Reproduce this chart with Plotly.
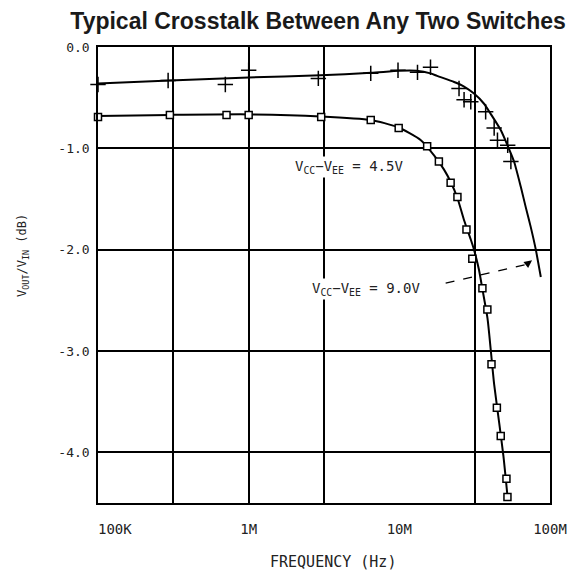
import math
import plotly.graph_objects as go

# ---- data ----
# upper curve: VCC-VEE = 9.0V (smooth line)
f_90_line = [1e5, 3e5, 1e6, 3e6, 6.5e6, 1e7, 1.3e7, 1.61e7, 1.78e7, 2.31e7, 2.69e7, 3.13e7,
             3.65e7, 4.04e7, 4.71e7, 5.22e7, 5.77e7, 6.4e7, 6.9e7, 7.46e7, 8.05e7, 8.69e7]
db_90_line = [-0.36, -0.33, -0.30, -0.28, -0.255, -0.235, -0.235, -0.26, -0.285, -0.345, -0.39, -0.46,
              -0.56, -0.66, -0.82, -0.97, -1.13, -1.38, -1.58, -1.78, -2.0, -2.27]
# upper curve measured points (+)
f_90_pts = [1e5, 2.92e5, 7.0e5, 1.0e6, 2.9e6, 6.46e6, 9.8e6, 1.32e7, 1.61e7, 2.49e7, 2.69e7,
            2.98e7, 3.74e7, 4.26e7, 4.48e7, 5.24e7, 5.5e7]
db_90_pts = [-0.37, -0.33, -0.37, -0.23, -0.31, -0.26, -0.23, -0.25, -0.20, -0.41, -0.52,
             -0.54, -0.64, -0.80, -0.92, -0.97, -1.13]

# lower curve: VCC-VEE = 4.5V (smooth line)
f_45_line = [1e5, 3e5, 1e6, 3e6, 6.46e6, 9.7e6, 1.39e7, 1.7e7, 1.98e7, 2.19e7, 2.43e7, 2.69e7,
             2.98e7, 3.13e7, 3.38e7, 3.56e7, 3.85e7, 4.05e7, 4.26e7, 4.6e7, 4.91e7, 5.22e7]
db_45_line = [-0.68, -0.67, -0.665, -0.685, -0.72, -0.79, -0.92, -1.07, -1.21, -1.33, -1.49, -1.71,
              -1.90, -2.0, -2.20, -2.39, -2.68, -3.0, -3.33, -3.71, -4.04, -4.43]
# lower curve measured points (squares)
f_45_pts = [1e5, 3e5, 7.13e5, 1e6, 3.03e6, 6.46e6, 9.9e6, 1.53e7, 1.83e7, 2.19e7, 2.43e7, 2.79e7,
            3.05e7, 3.56e7, 3.84e7, 4.09e7, 4.44e7, 4.71e7, 5.14e7, 5.22e7]
db_45_pts = [-0.69, -0.67, -0.67, -0.67, -0.69, -0.72, -0.80, -0.98, -1.13, -1.34, -1.48, -1.80,
             -2.09, -2.38, -2.59, -3.13, -3.56, -3.84, -4.26, -4.44]

NB = "\u00a0"
x_tick_vals = [1e5, 1e6, 1e7, 1e8]
x_tick_text = [NB * 4 + "100K", "1M", "10M", "100M"]
x_grid_vals = [10 ** 5.5, 1e6, 10 ** 6.5, 10 ** 7.5]
y_tick_vals = [0, -1, -2, -3, -4]
y_tick_text = ["0.0", "-1.0", "-2.0", "-3.0", "-4.0"]

# arrow for the 9.0V label (dashed shaft)
arrow_f = [2.03e7, 7.0e7]
arrow_db = [-2.33, -2.145]
arrow_tip_f, arrow_tip_db = 7.6e7, -2.105

TXT = "#222222"
MONO = "DejaVu Sans Mono, monospace"
SANS = "Liberation Sans, Arial, sans-serif"

fig = go.Figure()

fig.add_trace(go.Scatter(x=f_90_line, y=db_90_line, mode="lines",
                         line=dict(color="black", width=2, shape="spline", smoothing=0.6),
                         showlegend=False, hoverinfo="skip"))
fig.add_trace(go.Scatter(x=f_45_line, y=db_45_line, mode="lines",
                         line=dict(color="black", width=2, shape="spline", smoothing=0.6),
                         showlegend=False, hoverinfo="skip"))
fig.add_trace(go.Scatter(x=f_90_pts, y=db_90_pts, mode="markers", cliponaxis=False,
                         marker=dict(symbol="cross-thin", size=11,
                                     line=dict(color="black", width=1.5)),
                         showlegend=False))
fig.add_trace(go.Scatter(x=f_45_pts, y=db_45_pts, mode="markers", cliponaxis=False,
                         marker=dict(symbol="square", size=7, color="white",
                                     line=dict(color="black", width=1.5)),
                         showlegend=False))
fig.add_trace(go.Scatter(x=arrow_f, y=arrow_db, mode="lines",
                         line=dict(color="black", width=1.3, dash="dash"),
                         showlegend=False, hoverinfo="skip"))
# invisible trace for the grid axis
fig.add_trace(go.Scatter(x=[1e5], y=[0], xaxis="x2", mode="markers",
                         marker=dict(opacity=0), showlegend=False, hoverinfo="skip"))

fig.add_annotation(x=math.log10(arrow_tip_f), y=arrow_tip_db,
                   ax=math.log10(arrow_f[1]), ay=arrow_db[1],
                   xref="x", yref="y", axref="x", ayref="y",
                   showarrow=True, arrowhead=2, arrowsize=1.2, arrowwidth=1.3,
                   arrowcolor="black", text="")

fig.add_annotation(x=math.log10(4.6e6), y=-1.18, xref="x", yref="y",
                   text="V<sub>CC</sub>−V<sub>EE</sub> = 4.5V", showarrow=False,
                   font=dict(family=MONO, size=14, color=TXT), bgcolor="white")
fig.add_annotation(x=math.log10(6.0e6), y=-2.39, xref="x", yref="y",
                   text="V<sub>CC</sub>−V<sub>EE</sub> = 9.0V", showarrow=False,
                   font=dict(family=MONO, size=14, color=TXT), bgcolor="white")

# axis titles
fig.add_annotation(x=-0.166, y=0.544, xref="paper", yref="paper", textangle=-90,
                   text="V<sub>OUT</sub>/V<sub>IN</sub> (dB)", showarrow=False,
                   xanchor="center", yanchor="middle",
                   font=dict(family=MONO, size=12, color=TXT))
fig.add_annotation(x=0.52, y=-0.129, xref="paper", yref="paper",
                   text="FREQUENCY (Hz)", showarrow=False,
                   xanchor="center", yanchor="middle",
                   font=dict(family=MONO, size=15, color=TXT))

fig.update_layout(
    width=585, height=573,
    margin=dict(l=90, r=43, t=39, b=78),
    paper_bgcolor="white", plot_bgcolor="white",
    font=dict(family=MONO, size=14, color=TXT),
    title=dict(text="<b>Typical Crosstalk Between Any Two Switches</b>",
               x=0.53, xanchor="center", y=0.977, yanchor="middle",
               font=dict(family=SANS, size=23, color="#1a1a1a")),
    xaxis=dict(type="log", range=[5, 8], tickvals=x_tick_vals, ticktext=x_tick_text,
               showgrid=False, zeroline=False, showline=True, linecolor="black",
               linewidth=1.5, mirror=True, ticks="", ticklabelstandoff=12,
               tickfont=dict(family=MONO, size=14, color=TXT)),
    xaxis2=dict(type="log", range=[5, 8], overlaying="x", tickvals=x_grid_vals,
                showticklabels=False, showgrid=True, gridcolor="black", gridwidth=1.5,
                zeroline=False, ticks="", showline=False),
    yaxis=dict(range=[-4.5, 0], tickvals=y_tick_vals, ticktext=y_tick_text,
               showgrid=True, gridcolor="black", gridwidth=1.5, zeroline=False,
               showline=True, linecolor="black", linewidth=1.5, mirror=True,
               ticks="", ticklabelstandoff=4,
               tickfont=dict(family=MONO, size=13, color=TXT)),
)

fig.write_html("out.html")
